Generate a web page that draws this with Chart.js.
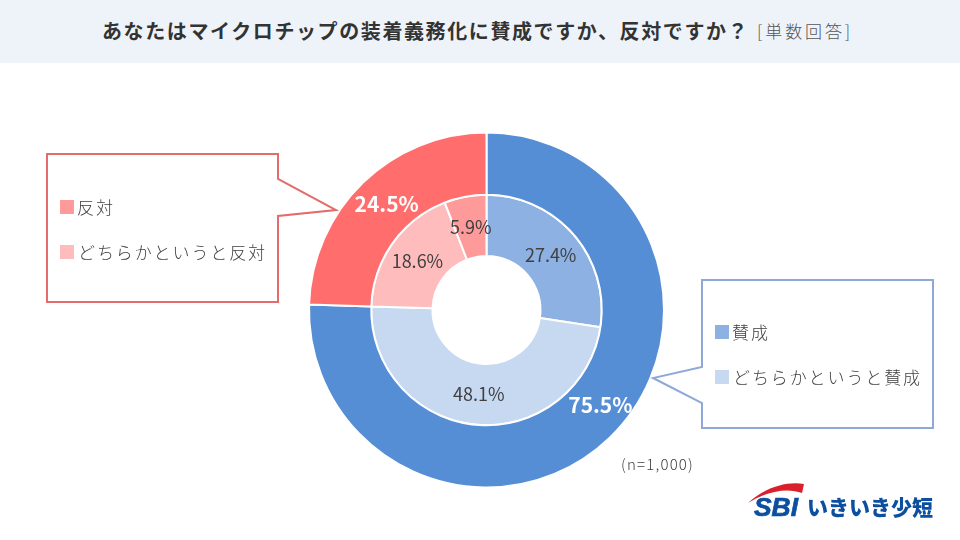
<!DOCTYPE html>
<html lang="ja">
<head>
<meta charset="utf-8">
<script src="https://cdn.jsdelivr.net/npm/chart.js@4"></script>
<style>
    html, body { margin: 0; padding: 0; background: #fff; }
    body { width: 960px; height: 540px; position: relative; overflow: hidden; font-family: "Noto Sans CJK JP", sans-serif; color: #404040; }
    #header { position: absolute; left: 0; top: 0; width: 960px; height: 63px; background: #eef3fa; }
    .text { position: absolute; white-space: nowrap; }
    #title { left: 102px; top: 16px; font-size: 20px; line-height: 30px; font-weight: 700; letter-spacing: 1.6px; color: #333; }
    #note { left: 757px; top: 19px; font-size: 17px; line-height: 24px; letter-spacing: 2.9px; color: #555; font-weight: 300; }
    #chart { position: absolute; left: 0; top: 0; }
    #shapes { position: absolute; left: 0; top: 0; }
    .swatch { position: absolute; width: 14px; height: 14px; }
    .legend { font-size: 17px; line-height: 24px; letter-spacing: 1.9px; font-weight: 300; }
    #sample { left: 621px; top: 454px; font-size: 15px; line-height: 20px; letter-spacing: 1.2px; font-weight: 300; }
</style>
</head>
<body>
<div id="header"></div>
<div id="title" class="text"></div>
<div id="note" class="text"></div>
<canvas id="chart" width="960" height="540" style="width:960px;height:540px"></canvas>
<svg id="shapes" width="960" height="540">
    <polygon points="47,154 278,154 278,179 336,210 278,216 278,302 47,302" fill="#fff" stroke="#e46c6c" stroke-width="2"/>
    <polygon points="702,280 933,280 933,428 702,428 702,403 653,378 702,367" fill="#fff" stroke="#8ea9d8" stroke-width="2"/>
    <path d="M748,503 C764,488 786,481 804,484 L802,493 C786,487 766,492 748,503 Z" fill="#d9202c"/>
    <text x="754" y="516" font-family="Liberation Sans" font-size="26" font-weight="700" font-style="italic" fill="#0b4f9e" stroke="#0b4f9e" stroke-width="0.7" textLength="44" lengthAdjust="spacingAndGlyphs">SBI</text>
    <text x="807" y="515" font-family="Noto Sans CJK JP" font-size="21" font-weight="900" fill="#0b4f9e" textLength="126" lengthAdjust="spacing">いきいき少短</text>
</svg>
<div id="sample" class="text"></div>

<script>
// Chart data
const categories = ['賛成', 'どちらかというと賛成', 'どちらかというと反対', '反対'];
const outerValues = [75.5, 24.5];
const innerValues = [27.4, 48.1, 18.6, 5.9];
const titleText = 'あなたはマイクロチップの装着義務化に賛成ですか、反対ですか？';
const noteText = '[単数回答]';
const sampleText = '(n=1,000)';

// Colours
const outerColors = ['#558ed5', '#ff6d6d'];
const innerColors = ['#8eb1e3', '#c7d9f1', '#ffbcbc', '#ff9a9a'];

document.getElementById('title').textContent = titleText;
document.getElementById('note').textContent = noteText;
document.getElementById('sample').textContent = sampleText;

// Legends inside the callouts
function addLegend(category, color, swatchX, swatchY, textX, textY) {
    const swatch = document.createElement('div');
    swatch.className = 'swatch';
    swatch.style.cssText = `left:${swatchX}px;top:${swatchY}px;background:${color}`;
    document.body.appendChild(swatch);

    const label = document.createElement('div');
    label.className = 'text legend';
    label.style.cssText = `left:${textX}px;top:${textY}px`;
    label.textContent = category;
    document.body.appendChild(label);
}
addLegend(categories[3], innerColors[3], 60, 200, 77, 195);
addLegend(categories[2], innerColors[2], 60, 245, 78, 240);
addLegend(categories[0], innerColors[0], 715, 325, 732, 320);
addLegend(categories[1], innerColors[1], 715, 370, 733, 365);

// Percent labels drawn on the slices
const sliceLabels = {
    id: 'sliceLabels',
    afterDatasetsDraw(chart) {
        const ctx = chart.ctx;
        ctx.save();
        ctx.textAlign = 'center';
        ctx.textBaseline = 'middle';
        chart.data.datasets.forEach((dataset, d) => {
            chart.getDatasetMeta(d).data.forEach((arc, i) => {
                const pos = arc.getCenterPoint();
                let x = pos.x;
                let y = pos.y;
                if (d === 0) {
                    ctx.font = '700 21px "Noto Sans CJK JP"';
                    ctx.fillStyle = '#fff';
                    // the big labels sit a little off the middle of the ring
                    if (i === 0) { x += 12; y -= 10; } else { x += 2; y -= 1; }
                } else {
                    ctx.font = '400 18px "Noto Sans CJK JP"';
                    ctx.fillStyle = '#404040';
                }
                ctx.fillText(dataset.data[i].toFixed(1) + '%', x, y);
            });
        });
        ctx.restore();
    }
};

new Chart(document.getElementById('chart'), {
    type: 'doughnut',
    data: {
        labels: categories,
        datasets: [
            { data: outerValues, backgroundColor: outerColors, borderColor: '#fff', borderWidth: 2, weight: 62 },
            { data: innerValues, backgroundColor: innerColors, borderColor: '#fff', borderWidth: 2, weight: 61 }
        ]
    },
    options: {
        responsive: false,
        animation: false,
        cutout: 54,
        layout: { padding: { left: 308, right: 295, top: 131, bottom: 51 } },
        plugins: { legend: { display: false }, tooltip: { enabled: false } }
    },
    plugins: [sliceLabels]
});
</script>
</body>
</html>
